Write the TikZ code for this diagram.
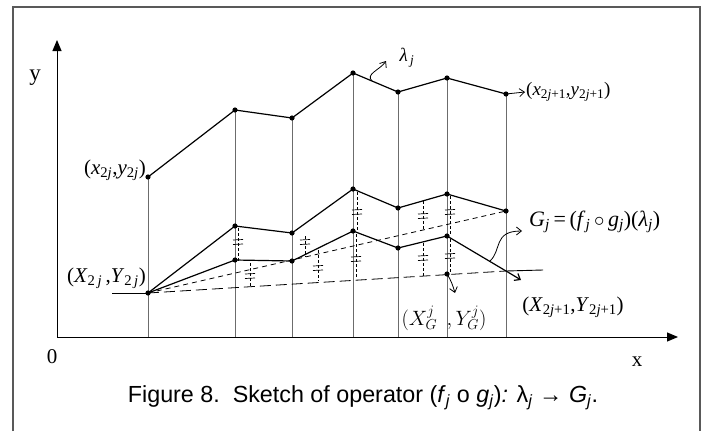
\documentclass[tikz,border=0pt]{standalone}
\usepackage{fontspec}
\setmainfont{Liberation Serif}
\newfontfamily\capfont{Liberation Sans}
\usetikzlibrary{arrows.meta}
\newcommand{\iv}[2]{\textit{#1}\textsubscript{#2}}

\begin{document}
\begin{tikzpicture}[x=1pt, y=-1pt,
        grid line/.style={gray!85!black, line width=0.5pt},
        poly/.style={line width=1.2pt, line join=round},
        marker/.style={dash pattern=on 3pt off 2pt, line width=0.7pt},
        tick/.style={line width=0.7pt},
        lbl/.style={font=\fontsize{19}{21}\selectfont, inner sep=1pt},
        big lbl/.style={font=\fontsize{21}{23}\selectfont, inner sep=1pt},
        >={Straight Barb[length=5pt,width=8pt]}]

    \useasboundingbox (0,0) rectangle (709,431);
    \draw[line width=1.2pt, gray!70!black] (13,431) -- (13,7) -- (700,7) -- (700,431);

    % axes
    \coordinate (O) at (57,337);
    \coordinate (ytip) at (57,40);
    \coordinate (xtip) at (678,337);
    \draw[line width=1pt, -{Triangle[length=11pt,width=9pt]}] (O) -- (ytip);
    \draw[line width=1pt, -{Triangle[length=11pt,width=9pt]}] (O) -- (xtip);

    % points of the upper curve and of the middle curve
    \foreach \n/\x/\yt/\ya in {1/148/177/293, 2/235/110/226, 3/292/118/233,
            4/353/73/189, 5/398/92/208, 6/447/78/194, 7/506/94/211} {
            \coordinate (t\n) at (\x,\yt);
            \coordinate (a\n) at (\x,\ya);
            \coordinate (f\n) at (\x,337);
        }
    % points of the lower curve
    \foreach \n/\x/\y in {2/235/260, 3/292/261, 4/353/231, 5/398/248, 6/447/236, 7/506/271} {
            \coordinate (b\n) at (\x,\y);
        }
    \coordinate (b1) at (a1);
    \coordinate (bx) at (521,280);
    \coordinate (gpt) at (447,274);

    \foreach \n in {1,...,7} {
            \draw[grid line] (t\n) -- (f\n);
        }

    % dashed chords
    \draw[dash pattern=on 5pt off 4pt, line width=0.8pt] (a1) -- (a7);
    \draw[dash pattern=on 11pt off 5pt, line width=0.8pt] (a1) -- (b7);
    \draw[line width=0.9pt] (112,293) -- (a1);
    \draw[line width=0.9pt] (b7) -- (543,270);

    % polylines
    \draw[poly] (t1) -- (t2) -- (t3) -- (t4) -- (t5) -- (t6) -- (t7);
    \draw[poly] (a1) -- (a2) -- (a3) -- (a4) -- (a5) -- (a6) -- (a7);
    \draw[poly] (b1) -- (b2) -- (b3) -- (b4) -- (b5) -- (b6) -- (b7);
    \draw[poly, ->] (b7) -- (bx);

    % equal-distance marks
    \foreach \x/\ya/\yb/\ym in {238/228/262/242, 305/236/257/242, 357/192/232/212,
            423/201/230/216, 450/196/234/212, 250/263/287/276, 318/250/281/268,
            356/234/279/259, 423/243/276/258, 450/239/272/256} {
            \draw[marker] (\x,\ya) -- (\x,\yb);
            \draw[tick] ({\x-5},{\ym-2}) -- ({\x+5},{\ym-2.5}) ({\x-5},{\ym+2.5}) -- ({\x+5},{\ym+2});
        }

    \foreach \p in {t1,t2,t3,t4,t5,t6,t7,a1,a2,a3,a4,a5,a6,a7,b2,b3,b4,b5,b6,gpt} {
            \fill (\p) circle (2.6pt);
        }

    % labels
    \node[big lbl, anchor=east] (lx0) at (147,170) {(\iv{x}{2\textit{j}},\iv{y}{2\textit{j}})};
    \node[big lbl, anchor=east] (lX0) at (147,278) {(\iv{X}{2\,\textit{j}}\,,\iv{Y}{2\,\textit{j}})};
    \node[lbl, anchor=west] (lx1) at (525,92) {(\iv{x}{2\textit{j}+1},\iv{y}{2\textit{j}+1})};
    \node[big lbl] (lX1) at (573,307) {(\iv{X}{2\textit{j}+1},\iv{Y}{2\textit{j}+1})};
    \node[lbl, font=\fontsize{22}{24}\selectfont, anchor=west] (lG) at (528,222)
    {\iv{G}{\textit{j}}\,=\,(\iv{f}{\textit{j}}\,$\circ$\,\iv{g}{\textit{j}})(\iv{λ}{\textit{j}})};
    \node[lbl, font=\fontsize{19.5}{22}\selectfont] (lXG) at (444,318) {$(X_G^j\;\,,Y_G^j)$};
    \node[lbl] (llam) at (407,58) {\iv{λ}{\,\textit{j}}};
    \node[big lbl, font=\fontsize{23}{25}\selectfont] (ly) at (35,78) {y};
    \node[big lbl] (lzero) at (52,357) {0};
    \node[big lbl] (lxx) at (637,362) {x};

    % pointers
    \draw[line width=0.8pt, ->] (t7) -- (lx1.west);
    \draw[line width=0.8pt, ->] (372,81) .. controls (365,74) and (380,70) .. (386,61);
    \draw[line width=0.8pt, ->] (490,261) .. controls (502,250) and (493,231) .. (522,231);
    \draw[line width=0.8pt, ->] (gpt) .. controls (451,280) and (453,286) .. (455,293);

    \node[font=\capfont\fontsize{23.3}{26}\selectfont] (cap) at (363,398)
    {Figure 8.\ \ Sketch of operator (\textit{f}\textsubscript{\textit{j}} o \textit{g}\textsubscript{\textit{j}})\textit{:} λ\textsubscript{\textit{j}} → \textit{G}\textsubscript{\textit{j}}.};
\end{tikzpicture}
\end{document}
